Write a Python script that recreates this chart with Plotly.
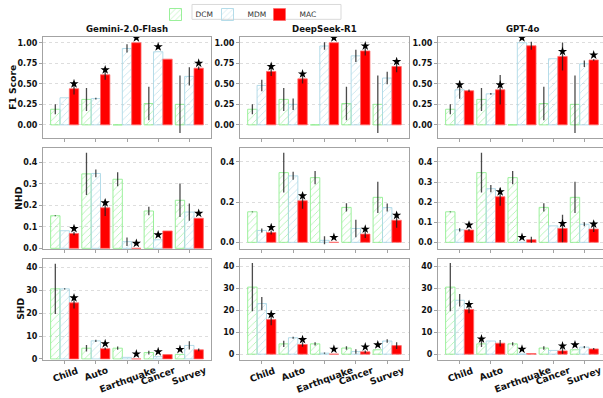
import plotly.graph_objects as go

# ---------------- data ----------------
categories = ["Child", "Auto", "Earthquake", "Cancer", "Survey"]
models = ["Gemini-2.0-Flash", "DeepSeek-R1", "GPT-4o"]
metrics = ["F1 Score", "NHD", "SHD"]
methods = ["DCM", "MDM", "MAC"]

# DCM baseline (identical in every model panel)
dcm_f1 = [0.19, 0.31, 0.0, 0.26, 0.25]
dcm_f1_err = [0.06, 0.14, 0.0, 0.205, 0.35]
dcm_nhd = [0.152, 0.347, 0.322, 0.174, 0.224]
dcm_nhd_err = [0.002, 0.099, 0.033, 0.02, 0.078]
dcm_shd = [30.6, 4.7, 4.7, 2.8, 2.0]
dcm_shd_err = [11.0, 1.4, 0.7, 0.8, 0.0]

# Gemini-2.0-Flash
gem_f1_mdm = [0.33, 0.32, 0.93, 0.89, 0.59]
gem_f1_mdm_err = [0.0, 0.01, 0.05, 0.0, 0.11]
gem_f1_mac = [0.44, 0.61, 1.0, 0.80, 0.69]
gem_f1_mac_err = [0.07, 0.06, 0.0, 0.0, 0.02]
gem_nhd_mdm = [0.082, 0.349, 0.031, 0.04, 0.169]
gem_nhd_mdm_err = [0.0, 0.018, 0.02, 0.0, 0.04]
gem_nhd_mac = [0.069, 0.189, 0.0, 0.081, 0.14]
gem_nhd_mac_err = [0.008, 0.038, 0.0, 0.0, 0.0]
gem_shd_mdm = [30.6, 7.9, 0.7, 1.0, 5.9]
gem_shd_mdm_err = [0.3, 0.5, 0.0, 0.0, 1.8]
gem_shd_mac = [24.5, 4.5, 0.0, 1.9, 4.0]
gem_shd_mac_err = [2.5, 0.5, 0.0, 0.0, 0.6]
gem_f1_star = ["MAC", "MAC", "MAC", "MDM", "MAC"]
gem_nhd_star = ["MAC", "MAC", "MAC", "MDM", "MAC"]
gem_shd_star = ["MAC", "MAC", "MAC", "MDM", "DCM"]

# DeepSeek-R1
ds_f1_mdm = [0.48, 0.25, 0.96, 0.84, 0.57]
ds_f1_mdm_err = [0.07, 0.07, 0.045, 0.075, 0.077]
ds_f1_mac = [0.65, 0.56, 1.0, 0.90, 0.71]
ds_f1_mac_err = [0.056, 0.056, 0.0, 0.055, 0.07]
ds_nhd_mdm = [0.059, 0.331, 0.01, 0.069, 0.173]
ds_nhd_mdm_err = [0.01, 0.02, 0.02, 0.044, 0.02]
ds_nhd_mac = [0.049, 0.207, 0.0, 0.041, 0.11]
ds_nhd_mac_err = [0.01, 0.04, 0.0, 0.02, 0.037]
ds_shd_mdm = [23.1, 7.5, 0.45, 1.2, 6.0]
ds_shd_mdm_err = [3.0, 0.5, 0.3, 1.0, 0.8]
ds_shd_mac = [15.8, 4.4, 0.0, 1.05, 3.9]
ds_shd_mac_err = [2.6, 1.0, 0.0, 0.6, 1.5]
ds_f1_star = ["MAC", "MAC", "MAC", "MAC", "MAC"]
ds_nhd_star = ["MAC", "MAC", "MAC", "MAC", "MAC"]
ds_shd_star = ["MAC", "MAC", "MAC", "MAC", "DCM"]

# GPT-4o
gpt_f1_mdm = [0.427, 0.378, 1.0, 0.805, 0.744]
gpt_f1_mdm_err = [0.11, 0.01, 0.0, 0.0, 0.04]
gpt_f1_mac = [0.415, 0.427, 0.963, 0.833, 0.79]
gpt_f1_mac_err = [0.015, 0.18, 0.05, 0.17, 0.01]
gpt_nhd_mdm = [0.0625, 0.267, 0.0, 0.082, 0.09]
gpt_nhd_mdm_err = [0.008, 0.018, 0.0, 0.0, 0.01]
gpt_nhd_mac = [0.061, 0.227, 0.013, 0.069, 0.066]
gpt_nhd_mac_err = [0.006, 0.045, 0.015, 0.068, 0.015]
gpt_shd_mdm = [24.6, 6.0, 0.0, 1.7, 3.2]
gpt_shd_mdm_err = [2.9, 0.0, 0.0, 0.0, 0.5]
gpt_shd_mac = [20.4, 5.0, 0.3, 1.5, 2.4]
gpt_shd_mac_err = [1.7, 1.5, 0.0, 1.3, 0.4]
gpt_f1_star = ["MDM", "MAC", "MDM", "MAC", "MAC"]
gpt_nhd_star = ["MAC", "MAC", "MDM", "MAC", "MAC"]
gpt_shd_star = ["MAC", "DCM", "MDM", "MAC", "DCM"]

f1_ticks = [0, 0.25, 0.5, 0.75, 1.0]
nhd_ticks_fine = [0, 0.1, 0.2, 0.3, 0.4]
nhd_ticks_coarse = [0, 0.2, 0.4]
shd_ticks = [0, 10, 20, 30, 40]

# ---------------- assemble ----------------
panels = {
    (0, 0): ([dcm_f1, gem_f1_mdm, gem_f1_mac], [dcm_f1_err, gem_f1_mdm_err, gem_f1_mac_err], gem_f1_star),
    (0, 1): ([dcm_f1, ds_f1_mdm, ds_f1_mac], [dcm_f1_err, ds_f1_mdm_err, ds_f1_mac_err], ds_f1_star),
    (0, 2): ([dcm_f1, gpt_f1_mdm, gpt_f1_mac], [dcm_f1_err, gpt_f1_mdm_err, gpt_f1_mac_err], gpt_f1_star),
    (1, 0): ([dcm_nhd, gem_nhd_mdm, gem_nhd_mac], [dcm_nhd_err, gem_nhd_mdm_err, gem_nhd_mac_err], gem_nhd_star),
    (1, 1): ([dcm_nhd, ds_nhd_mdm, ds_nhd_mac], [dcm_nhd_err, ds_nhd_mdm_err, ds_nhd_mac_err], ds_nhd_star),
    (1, 2): ([dcm_nhd, gpt_nhd_mdm, gpt_nhd_mac], [dcm_nhd_err, gpt_nhd_mdm_err, gpt_nhd_mac_err], gpt_nhd_star),
    (2, 0): ([dcm_shd, gem_shd_mdm, gem_shd_mac], [dcm_shd_err, gem_shd_mdm_err, gem_shd_mac_err], gem_shd_star),
    (2, 1): ([dcm_shd, ds_shd_mdm, ds_shd_mac], [dcm_shd_err, ds_shd_mdm_err, ds_shd_mac_err], ds_shd_star),
    (2, 2): ([dcm_shd, gpt_shd_mdm, gpt_shd_mac], [dcm_shd_err, gpt_shd_mdm_err, gpt_shd_mac_err], gpt_shd_star),
}

W, H = 603, 398
col_px = [(43, 211), (240, 409), (438, 603)]
row_px = [(37.5, 139), (149, 251.5), (261.7, 363.3)]
px_per_unit = 168 / 5.39
x_ranges = [[-0.695, 4.695], [-0.695, 4.695], [-0.695, -0.695 + 165 / px_per_unit]]
y_ranges = {
    0: [[-0.155, 1.068]] * 3,
    1: [[-0.003, 0.47], [-0.033, 0.472], [-0.033, 0.472]],
    2: [[-0.3, 43.6], [-2.5, 43.4], [-2.5, 43.4]],
}
y_ticks = {
    (0, 0): f1_ticks, (0, 1): f1_ticks, (0, 2): f1_ticks,
    (1, 0): nhd_ticks_fine, (1, 1): nhd_ticks_coarse, (1, 2): nhd_ticks_fine,
    (2, 0): shd_ticks, (2, 1): shd_ticks, (2, 2): shd_ticks,
}
y_fmt = {0: ".2f", 1: ".1f", 2: "d"}

colors = {"DCM": "#90ee90", "MDM": "#add8e6", "MAC": "#ff0000"}
bar_w = 0.3
FONT = "DejaVu Sans"
FRAME = "#a3a3a3"

fig = go.Figure()
layout = dict(
    width=W, height=H, margin=dict(l=0, r=0, t=0, b=0),
    plot_bgcolor="white", paper_bgcolor="white", barmode="overlay",
    font=dict(family=FONT, color="#111111"),
    showlegend=True,
    legend=dict(orientation="h", x=155.5 / W, xanchor="left", y=1.0, yanchor="top",
                borderwidth=0, font=dict(size=7.5, family=FONT, color="#333333"),
                itemwidth=30, entrywidth=7, bgcolor="rgba(0,0,0,0)", tracegroupgap=0),
    shapes=[dict(type="rect", xref="paper", yref="paper", x0=192 / W, x1=341 / W,
                 y0=1 - 19.5 / H, y1=1 - 4.5 / H, line=dict(color="#d9d9d9", width=1),
                 fillcolor="rgba(0,0,0,0)", layer="above")],
)
annotations = []

for (r, c), (vals, errs, stars) in panels.items():
    idx = r * 3 + c + 1
    xa = "x" if idx == 1 else f"x{idx}"
    ya = "y" if idx == 1 else f"y{idx}"
    centers = list(range(len(categories)))
    y0, y1 = y_ranges[r][c]
    y_h = row_px[r][1] - row_px[r][0]
    star_off = (y1 - y0) * 5.0 / y_h
    for k, m in enumerate(methods):
        xs = [i + (k - 1) * bar_w for i in centers]
        if m == "MAC":
            marker = dict(color=colors[m], line=dict(color="#ff6a6a", width=0.8))
        else:
            marker = dict(color=colors[m], line=dict(color=colors[m], width=0.9),
                          pattern=dict(shape="/", size=5, solidity=0.12, fillmode="replace"))
        fig.add_trace(go.Bar(
            x=xs, y=vals[k], width=bar_w, name=m, marker=marker,
            error_y=dict(type="data", array=errs[k], color="rgba(30,30,30,0.8)", thickness=1.3, width=0),
            xaxis=xa, yaxis=ya, showlegend=(idx == 1), legendgroup=m,
        ))
    sx, sy = [], []
    for i, m in enumerate(stars):
        k = methods.index(m)
        sx.append(i + (k - 1) * bar_w)
        sy.append(vals[k][i] + star_off)
    fig.add_trace(go.Scatter(x=sx, y=sy, mode="markers", marker=dict(symbol="star", size=7, color="black"),
                             xaxis=xa, yaxis=ya, showlegend=False, hoverinfo="skip"))

    key = "" if idx == 1 else str(idx)
    layout["xaxis" + key] = dict(
        domain=[col_px[c][0] / W, min(col_px[c][1] / W, 1.0)], range=x_ranges[c], anchor=ya,
        tickvals=centers, ticktext=[""] * len(centers), ticks="outside", ticklen=3, tickcolor=FRAME,
        showgrid=False, zeroline=False, showline=True, linecolor=FRAME, linewidth=1.2, mirror=True,
    )
    layout["yaxis" + key] = dict(
        domain=[1 - row_px[r][1] / H, 1 - row_px[r][0] / H], range=[y0, y1], anchor=xa,
        tickvals=y_ticks[(r, c)], tickformat=y_fmt[r], ticks="outside", ticklen=3, tickcolor=FRAME,
        tickfont=dict(size=8, family=FONT, color="#111111", weight="bold"),
        showgrid=True, gridcolor="#dddddd", griddash="dot", gridwidth=0.8,
        zeroline=False, showline=True, linecolor=FRAME, linewidth=1.2, mirror=(c != 2),
    )
    if r == 2:
        for i, cat in enumerate(categories):
            annotations.append(dict(
                x=i, xref=xa, y=1 - 365.5 / H, yref="paper", text=f"<b>{cat}</b>", showarrow=False,
                textangle=-20, xanchor="center", yanchor="top", font=dict(size=9.2, family=FONT, color="#111111"),
            ))

# invisible spacer entry so the last legend label is not clipped
fig.add_trace(go.Bar(x=[None], y=[None], name=" ", marker=dict(color="rgba(0,0,0,0)", line=dict(width=0)),
                     showlegend=True, hoverinfo="skip"))

for c, name in enumerate(models):
    annotations.append(dict(
        x=(col_px[c][0] + [211, 409, 606][c]) / 2 / W, xref="paper", y=1 - 36 / H, yref="paper",
        text=f"<b>{name}</b>", showarrow=False, xanchor="center", yanchor="bottom",
        font=dict(size=8.6, family=FONT, color="#111111"),
    ))

ytitle_x = [12.5, 18.5, 20.5]
for r, name in enumerate(metrics):
    annotations.append(dict(
        x=ytitle_x[r] / W, xref="paper", y=1 - (row_px[r][0] + row_px[r][1]) / 2 / H, yref="paper",
        text=f"<b>{name}</b>", showarrow=False, textangle=-90, xanchor="center", yanchor="middle",
        font=dict(size=9.2, family=FONT, color="#111111"),
    ))

layout["annotations"] = annotations
fig.update_layout(**layout)
fig.write_html("out.html", config={"displayModeBar": False},
               post_script="document.body.style.margin='0';document.body.style.padding='0';")
